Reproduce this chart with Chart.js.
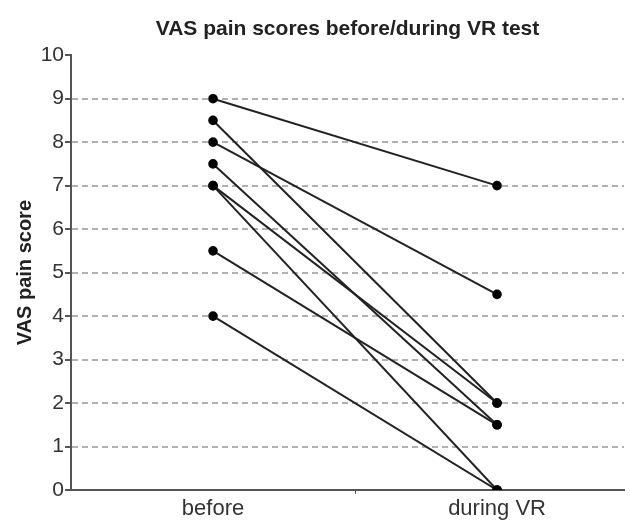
<!DOCTYPE html>
<html>
<head>
  <title>VAS pain scores</title>
  <script src="https://cdn.jsdelivr.net/npm/chart.js"></script>
  <style>
    html, body { margin: 0; padding: 0; background: #fff; }
    #wrap { width: 630px; height: 525px; }
  </style>
</head>
<body>
  <div id="wrap"><canvas id="vasChart"></canvas></div>

  <script>
    // Categories and paired scores (one patient per pair)
    var categories = ['before', 'during VR'];
    var beforeScores = [9, 8.5, 8, 7.5, 7, 7, 5.5, 4];
    var duringScores = [7, 2, 4.5, 1.5, 2, 0, 1.5, 0];
    var yTicks = [0, 1, 2, 3, 4, 5, 6, 7, 8, 9, 10];

    // one dataset per patient, x = category index
    var datasets = beforeScores.map(function(b, i) {
      return {
        label: 'Patient ' + (i + 1),
        data: [{ x: 0, y: b }, { x: 1, y: duringScores[i] }],
        borderColor: '#222',
        backgroundColor: '#000',
        pointBackgroundColor: '#000',
        pointBorderColor: '#000',
        pointRadius: 3.8,
        borderWidth: 2,
        fill: false,
        tension: 0
      };
    });

    Chart.defaults.font.family = '"Liberation Sans", Arial, sans-serif';

    new Chart(document.getElementById('vasChart'), {
      type: 'line',
      data: { datasets: datasets },
      options: {
        responsive: true,
        maintainAspectRatio: false,
        animation: false,
        plugins: {
          legend: { display: false },
          tooltip: { enabled: false },
          title: {
            display: true,
            text: 'VAS pain scores before/during VR test',
            color: '#222',
            font: { size: 21, weight: 'bold' },
            fullSize: false,
            padding: { top: 17, bottom: 13 }
          }
        },
        scales: {
          x: {
            type: 'linear',
            min: -0.5,
            max: 1.447,
            afterFit: function(scale) { scale.height = 35; },
            afterBuildTicks: function(scale) {
              // the two categories plus the boundary tick between them
              scale.ticks = [{ value: 0 }, { value: 0.5 }, { value: 1 }];
            },
            border: { color: '#555', width: 2 },
            grid: {
              drawOnChartArea: false,
              drawTicks: true,
              tickLength: 4,
              tickColor: function(ctx) {
                return ctx.tick && ctx.tick.value === 0.5 ? '#555' : 'rgba(0,0,0,0)';
              }
            },
            ticks: {
              color: '#333',
              font: { size: 22 },
              padding: 2,
              maxRotation: 0,
              autoSkip: false,
              callback: function(value) {
                return Number.isInteger(value) ? categories[value] : '';
              }
            }
          },
          y: {
            min: 0,
            max: 10,
            afterFit: function(scale) { scale.width = 71; },
            afterBuildTicks: function(scale) {
              scale.ticks = yTicks.map(function(v) { return { value: v }; });
            },
            border: { color: '#555', width: 2, dash: [6, 4] },
            grid: {
              color: function(ctx) {
                if (ctx.tick && (ctx.tick.value === 0 || ctx.tick.value === 10)) return 'rgba(0,0,0,0)';
                return '#b0b0b0';
              },
              tickColor: '#555',
              tickBorderDash: [],
              lineWidth: 2,
              tickLength: 6,
              drawTicks: true
            },
            title: {
              display: true,
              text: 'VAS pain score',
              color: '#222',
              font: { size: 20, weight: 'bold' },
              padding: { top: 13, bottom: 0 }
            },
            ticks: {
              color: '#333',
              font: { size: 21 },
              padding: 1
            }
          }
        }
      }
    });
  </script>
</body>
</html>
